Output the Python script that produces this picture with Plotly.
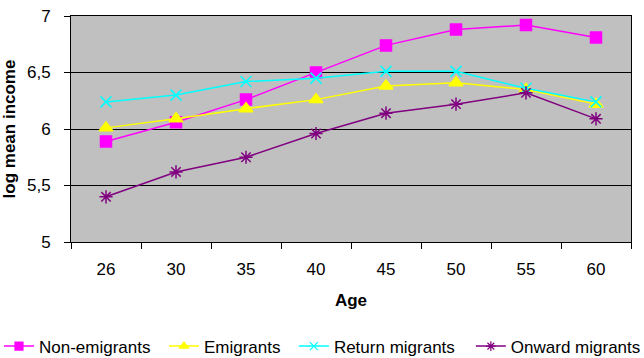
import plotly.graph_objects as go

ages = ["26", "30", "35", "40", "45", "50", "55", "60"]
non_emigrants = [5.89, 6.06, 6.26, 6.50, 6.74, 6.88, 6.92, 6.81]
emigrants = [6.01, 6.09, 6.18, 6.26, 6.38, 6.41, 6.35, 6.22]
return_migrants = [6.24, 6.30, 6.42, 6.45, 6.51, 6.51, 6.36, 6.24]
onward_migrants = [5.40, 5.62, 5.75, 5.96, 6.14, 6.22, 6.32, 6.09]

series = [
    ("Non-emigrants", non_emigrants, "#FF00FF", "square", 11),
    ("Emigrants", emigrants, "#FFFF00", "triangle-up", 12),
    ("Return migrants", return_migrants, "#00FFFF", "x-thin-open", 11),
    ("Onward migrants", onward_migrants, "#800080", "asterisk-open", 11),
]

# one small legend per series, laid out in a row below the axis title
legend_ids = ["legend", "legend2", "legend3", "legend4"]
legend_x = [-0.1286, 0.166, 0.398, 0.714]

fig = go.Figure()
for (name, vals, color, sym, size), lid in zip(series, legend_ids):
    # data line with full-size markers
    fig.add_trace(go.Scatter(
        x=ages, y=vals, name=name, mode="lines+markers", showlegend=False,
        line=dict(color=color, width=1.5),
        marker=dict(symbol=sym, size=size, color=color,
                    line=dict(color=color, width=1.5)),
    ))
    # legend entry with smaller key markers
    fig.add_trace(go.Scatter(
        x=[ages[0]], y=[None], name=name, mode="lines+markers", legend=lid,
        line=dict(color=color, width=1.5),
        marker=dict(symbol=sym, size=8, color=color,
                    line=dict(color=color, width=1.2)),
    ))

font = "Liberation Sans, Arial, sans-serif"
legend_style = dict(orientation="h", xanchor="left", y=-0.383, yanchor="top",
                    font=dict(size=17), bgcolor="rgba(0,0,0,0)")

fig.update_layout(
    width=644, height=358,
    margin=dict(l=71, r=13, t=16, b=116, autoexpand=False),
    paper_bgcolor="white", plot_bgcolor="#C0C0C0",
    separators=", ",
    font=dict(family=font, size=17, color="black"),
    showlegend=True,
    xaxis=dict(
        type="category", range=[-0.5, 7.5], tickson="boundaries",
        ticks="outside", ticklen=6, tickcolor="black", ticklabelstandoff=12,
        showline=True, linecolor="black", linewidth=1, mirror=True,
        showgrid=False, tickfont=dict(size=17),
        title=dict(text="<b>Age</b>", font=dict(size=17), standoff=15),
    ),
    yaxis=dict(
        range=[5, 7], tickvals=[5, 5.5, 6, 6.5, 7], tickformat=".1~f",
        ticks="outside", ticklen=6, tickcolor="black", ticklabelstandoff=10,
        showline=True, linecolor="black", linewidth=1, mirror=True,
        showgrid=True, gridcolor="black", gridwidth=1, zeroline=False,
        tickfont=dict(size=17),
        title=dict(text="<b>log mean income</b>", font=dict(size=17), standoff=8),
    ),
)
for lid, lx in zip(legend_ids, legend_x):
    fig.update_layout({lid: dict(legend_style, x=lx)})

fig.write_html("out.html")
